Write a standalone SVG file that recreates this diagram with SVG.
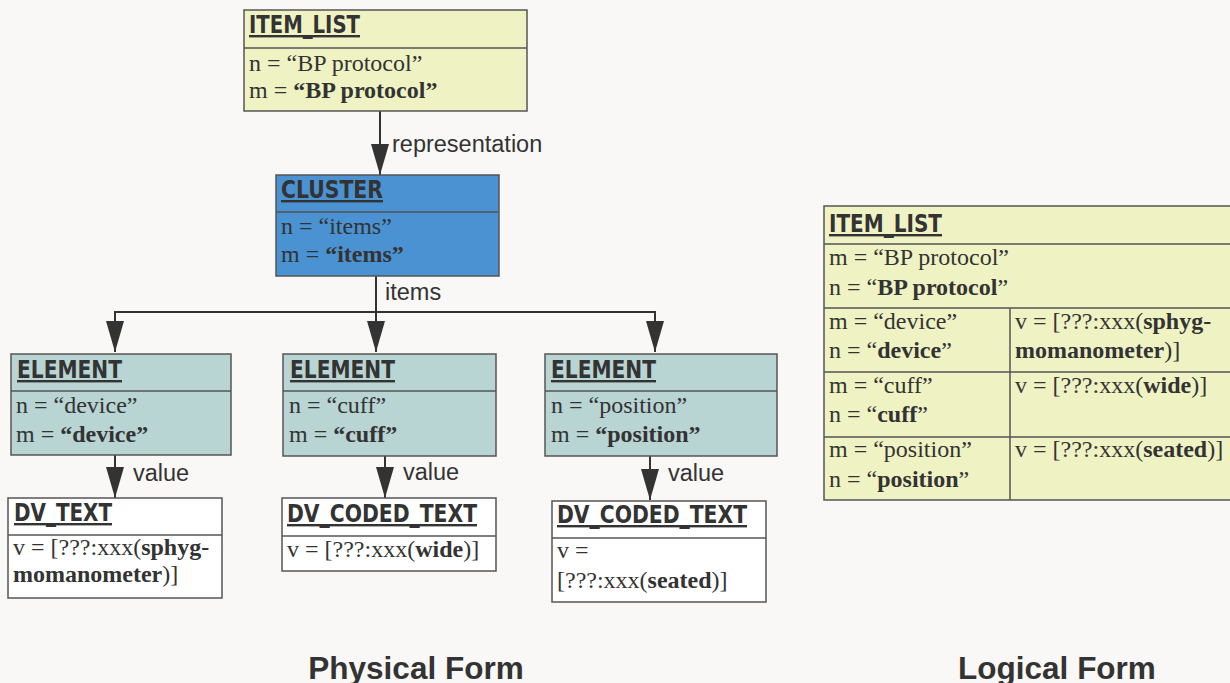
<svg xmlns="http://www.w3.org/2000/svg" width="1230" height="683" viewBox="0 0 1230 683">
  <defs>
    <marker id="arrow" markerUnits="userSpaceOnUse" markerWidth="31" markerHeight="18" viewBox="0 0 31 18" refX="31" refY="9" orient="auto">
      <path d="M0,0 L31,9 L0,18 Z" fill="#333"/>
    </marker>
    <style>
      .box { stroke: #555; stroke-width: 1.5; }
      .div { stroke: #555; stroke-width: 1.5; }
      .yel { fill: #eff3c4; }
      .blue { fill: #4a92d2; }
      .teal { fill: #b8d4d3; }
      .white { fill: #ffffff; }
      .title { font-family: "Liberation Sans Narrow", "DejaVu Sans Condensed", sans-serif; font-weight: bold; font-size: 24px; fill: #333; text-decoration: underline; }
      .body { font-family: "Liberation Serif", serif; font-size: 24px; fill: #333; }
      .lbl { font-family: "Liberation Sans", sans-serif; font-size: 23.5px; fill: #333; }
      .caption { font-family: "Liberation Sans", sans-serif; font-size: 31.5px; font-weight: bold; fill: #333; }
      .wire { stroke: #333; stroke-width: 2; fill: none; }
      .b { font-weight: bold; }
    </style>
  </defs>

  <rect width="1230" height="683" fill="#f9f8f6"/>

  <!-- connectors -->
  <g id="connectors">
    <line class="wire" x1="380" y1="111" x2="380" y2="175" marker-end="url(#arrow)"/>
    <text class="lbl" x="392" y="152">representation</text>
    <polyline class="wire" points="376,276 376,312"/>
    <line class="wire" x1="114" y1="312" x2="656" y2="312"/>
    <line class="wire" x1="115" y1="311" x2="115" y2="352" marker-end="url(#arrow)"/>
    <line class="wire" x1="376" y1="311" x2="376" y2="352" marker-end="url(#arrow)"/>
    <line class="wire" x1="655" y1="311" x2="655" y2="352" marker-end="url(#arrow)"/>
    <text class="lbl" x="385" y="300">items</text>
    <line class="wire" x1="115" y1="455" x2="115" y2="498" marker-end="url(#arrow)"/>
    <text class="lbl" x="133" y="481">value</text>
    <line class="wire" x1="385" y1="456" x2="385" y2="498" marker-end="url(#arrow)"/>
    <text class="lbl" x="403" y="480">value</text>
    <line class="wire" x1="650" y1="456" x2="650" y2="500" marker-end="url(#arrow)"/>
    <text class="lbl" x="668" y="481">value</text>
  </g>

  <!-- physical form nodes -->
  <g id="item-list">
    <rect class="box yel" x="244" y="10" width="283" height="101"/>
    <line class="div" x1="244" y1="48" x2="527" y2="48"/>
    <text class="title" x="249" y="33" textLength="111" lengthAdjust="spacingAndGlyphs">ITEM_LIST</text>
    <text class="body" x="249" y="71">n = “BP protocol”</text>
    <text class="body" x="249" y="98">m = <tspan class="b">“BP protocol”</tspan></text>
  </g>

  <g id="cluster">
    <rect class="box blue" x="276" y="175" width="223" height="101"/>
    <line class="div" x1="276" y1="212" x2="499" y2="212"/>
    <text class="title" x="281" y="198" textLength="102" lengthAdjust="spacingAndGlyphs">CLUSTER</text>
    <text class="body" x="281" y="234">n = “items”</text>
    <text class="body" x="281" y="262">m = <tspan class="b">“items”</tspan></text>
  </g>

  <g id="element-device">
    <rect class="box teal" x="11" y="354" width="220" height="101"/>
    <line class="div" x1="11" y1="391" x2="231" y2="391"/>
    <text class="title" x="17" y="378" textLength="105" lengthAdjust="spacingAndGlyphs">ELEMENT</text>
    <text class="body" x="16" y="413">n = “device”</text>
    <text class="body" x="16" y="442">m = <tspan class="b">“device”</tspan></text>
  </g>

  <g id="element-cuff">
    <rect class="box teal" x="283" y="354" width="213" height="102"/>
    <line class="div" x1="283" y1="391" x2="496" y2="391"/>
    <text class="title" x="290" y="378" textLength="105" lengthAdjust="spacingAndGlyphs">ELEMENT</text>
    <text class="body" x="289" y="413">n = “cuff”</text>
    <text class="body" x="289" y="442">m = <tspan class="b">“cuff”</tspan></text>
  </g>

  <g id="element-position">
    <rect class="box teal" x="545" y="354" width="232" height="102"/>
    <line class="div" x1="545" y1="391" x2="777" y2="391"/>
    <text class="title" x="551" y="378" textLength="105" lengthAdjust="spacingAndGlyphs">ELEMENT</text>
    <text class="body" x="551" y="413">n = “position”</text>
    <text class="body" x="551" y="442">m = <tspan class="b">“position”</tspan></text>
  </g>

  <g id="dv-text">
    <rect class="box white" x="8" y="498" width="214" height="100"/>
    <line class="div" x1="8" y1="535" x2="222" y2="535"/>
    <text class="title" x="14" y="521" textLength="98" lengthAdjust="spacingAndGlyphs">DV_TEXT</text>
    <text class="body" x="13" y="555">v = [???:xxx(<tspan class="b">sphyg-</tspan></text>
    <text class="body" x="13" y="582"><tspan class="b">momanometer</tspan>)]</text>
  </g>

  <g id="dv-coded-cuff">
    <rect class="box white" x="282" y="498" width="214" height="73"/>
    <line class="div" x1="282" y1="536" x2="496" y2="536"/>
    <text class="title" x="287" y="522" textLength="190" lengthAdjust="spacingAndGlyphs">DV_CODED_TEXT</text>
    <text class="body" x="287" y="557">v = [???:xxx(<tspan class="b">wide</tspan>)]</text>
  </g>

  <g id="dv-coded-position">
    <rect class="box white" x="552" y="501" width="214" height="101"/>
    <line class="div" x1="552" y1="538" x2="766" y2="538"/>
    <text class="title" x="557" y="523" textLength="190" lengthAdjust="spacingAndGlyphs">DV_CODED_TEXT</text>
    <text class="body" x="557" y="558">v =</text>
    <text class="body" x="557" y="588">[???:xxx(<tspan class="b">seated</tspan>)]</text>
  </g>

  <!-- logical form table -->
  <g id="logical-item-list">
    <rect class="box yel" x="824" y="206" width="410" height="294"/>
    <line class="div" x1="824" y1="244" x2="1232" y2="244"/>
    <line class="div" x1="824" y1="308" x2="1232" y2="308"/>
    <line class="div" x1="824" y1="372" x2="1232" y2="372"/>
    <line class="div" x1="824" y1="437" x2="1232" y2="437"/>
    <line class="div" x1="1010" y1="308" x2="1010" y2="500"/>
    <text class="title" x="829" y="232" textLength="113" lengthAdjust="spacingAndGlyphs">ITEM_LIST</text>
    <text class="body" x="829" y="265">m = “BP protocol”</text>
    <text class="body" x="829" y="295">n = “<tspan class="b">BP protocol</tspan>”</text>
    <text class="body" x="829" y="329">m = “device”</text>
    <text class="body" x="829" y="358">n = “<tspan class="b">device</tspan>”</text>
    <text class="body" x="1015" y="329">v = [???:xxx(<tspan class="b">sphyg-</tspan></text>
    <text class="body" x="1015" y="358"><tspan class="b">momanometer</tspan>)]</text>
    <text class="body" x="829" y="393">m = “cuff”</text>
    <text class="body" x="829" y="422">n = “<tspan class="b">cuff</tspan>”</text>
    <text class="body" x="1015" y="393">v = [???:xxx(<tspan class="b">wide</tspan>)]</text>
    <text class="body" x="829" y="457">m = “position”</text>
    <text class="body" x="829" y="487">n = “<tspan class="b">position</tspan>”</text>
    <text class="body" x="1015" y="457">v = [???:xxx(<tspan class="b">seated</tspan>)]</text>
  </g>

  <!-- captions -->
  <text class="caption" x="416" y="679" text-anchor="middle">Physical Form</text>
  <text class="caption" x="1057" y="679" text-anchor="middle">Logical Form</text>
</svg>
